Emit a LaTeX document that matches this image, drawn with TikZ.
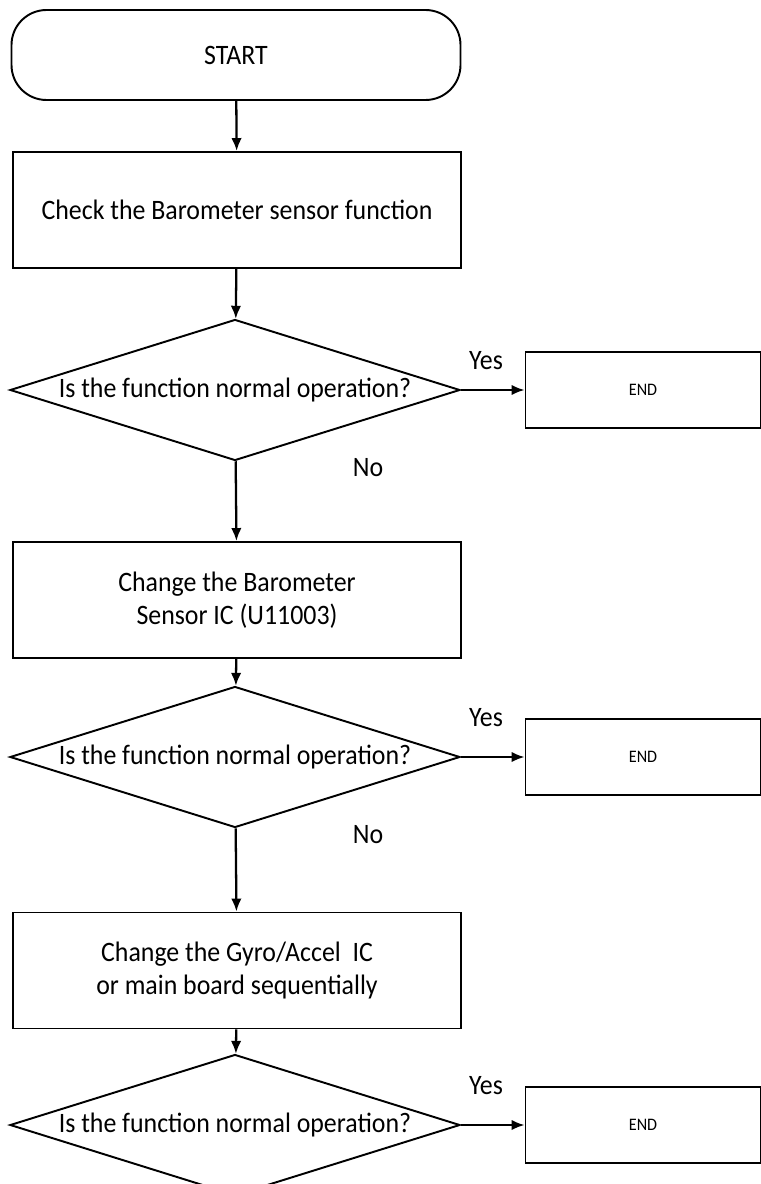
\documentclass[tikz,border=0pt]{standalone}
\usepackage{fontspec}
\setmainfont{Carlito}[FakeStretch=0.92]
\usetikzlibrary{arrows.meta, shapes.geometric, positioning}

\begin{document}
\begin{tikzpicture}[
            % Set global font size for consistency
            font=\fontsize{16}{19}\selectfont,
            % Define reusable styles for the flowchart elements
            flow/.style={-{Latex[length=2.6mm, width=2.1mm]}, line width=1.3pt, black},
            startbox/.style={draw, line width=1.1pt, rounded corners=0.7cm, minimum width=8.98cm, minimum height=1.8cm},
            taskbox/.style={draw, line width=1.1pt, align=center, minimum width=8.96cm, minimum height=2.32cm},
            decision/.style={diamond, draw, line width=1.1pt, inner sep=0pt, minimum width=9cm, minimum height=2.82cm},
            endbox/.style={draw, line width=1.1pt, font=\fontsize{10}{12}\selectfont, minimum width=4.7cm, minimum height=1.52cm}
        ]

        \useasboundingbox (0, 0) rectangle (15.22, -23.68);

        \node[startbox] (start) at (4.72, -1.10) {START};
        \node[taskbox] (check) at (4.74, -4.20) {Check the Barometer sensor function};
        \node[decision, label=center:{Is the function normal operation?}] (ok1) at (4.70, -7.80) {};
        \node[endbox] (end1) at (12.86, -7.80) {END};
        \node[taskbox] (baro) at (4.74, -12.00) {Change the Barometer\\Sensor IC (U11003)};
        \node[decision, label=center:{Is the function normal operation?}] (ok2) at (4.70, -15.14) {};
        \node[endbox] (end2) at (12.86, -15.14) {END};
        \node[taskbox] (gyro) at (4.74, -19.41) {Change the Gyro/Accel\ \ IC\\or main board sequentially};
        \node[decision, label=center:{Is the function normal operation?}] (ok3) at (4.70, -22.50) {};
        \node[endbox] (end3) at (12.86, -22.50) {END};

        % Yes / No answers
        \node (yes1) at (9.72, -7.22) {Yes};
        \node (no1) at (7.36, -9.36) {No};
        \node (yes2) at (9.72, -14.36) {Yes};
        \node (no2) at (7.36, -16.70) {No};
        \node (yes3) at (9.72, -21.72) {Yes};

        \draw[flow] (start) -- (check);
        \draw[flow] (check) -- (ok1);
        \draw[flow] (ok1.east) -- (end1);
        \draw[flow] (ok1) -- (baro);
        \draw[flow] (baro) -- (ok2);
        \draw[flow] (ok2.east) -- (end2);
        \draw[flow] (ok2) -- (gyro);
        \draw[flow] (gyro) -- (ok3);
        \draw[flow] (ok3.east) -- (end3);

\end{tikzpicture}
\end{document}
